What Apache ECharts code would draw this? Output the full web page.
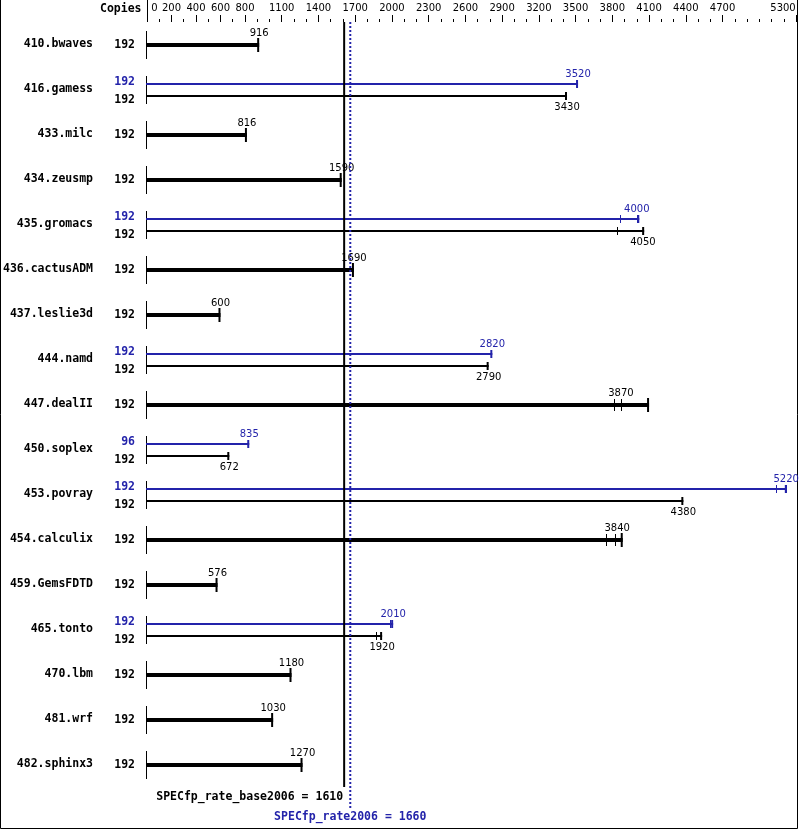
<!DOCTYPE html>
<html><head><meta charset="utf-8">
<script src="https://cdn.jsdelivr.net/npm/echarts@6/dist/echarts.min.js"></script>
<style>html,body{margin:0;padding:0;background:#fff}#c{width:799px;height:831px}</style>
</head><body><div id="c"></div>
<script>
const benchmarks = ['410.bwaves','416.gamess','433.milc','434.zeusmp','435.gromacs','436.cactusADM','437.leslie3d','444.namd','447.dealII','450.soplex','453.povray','454.calculix','459.GemsFDTD','465.tonto','470.lbm','481.wrf','482.sphinx3'];
const baseCopies = [192,192,192,192,192,192,192,192,192,192,192,192,192,192,192,192,192];
const baseMedian = [916,3430,816,1590,4050,1690,600,2790,3870,672,4380,3840,576,1920,1180,1030,1270];
const baseRuns = [[916],[3430],[816],[1590],[3840,4050,4060],[1690],[600],[2790],[3810,3870,4100],[672],[4380],[3750,3820,3885],[576],[1870,1920],[1180],[1030],[1270]];
const peakCopies = [null,192,null,null,192,null,null,192,null,96,192,null,null,192,null,null,null];
const peakMedian = [null,3520,null,null,4000,null,null,2820,null,835,5220,null,null,2010,null,null,null];
const peakRuns = [null,[3520],null,null,[3860,4000,4020],null,null,[2820],null,[835],[5135,5220,5225],null,null,[1985,2010],null,null,null];
const majorTicks = [0,200,400,600,800,1100,1400,1700,2000,2300,2600,2900,3200,3500,3800,4100,4400,4700,5300];
const specBase = 1610;
const specPeak = 1660;

const BLUE = '#2323aa';
const MONO = "'DejaVu Sans Mono', monospace";
const SANS = "'DejaVu Sans', sans-serif";

function txt(text, x, y, align, color, font) {
  return {type:'text', style:{text:String(text), x:x, y:y, align:align, verticalAlign:'middle', fill:color, font:font}};
}
function ln(x1,y1,x2,y2,color,w,dash) {
  const s = {stroke:color, lineWidth:w};
  if (dash) s.lineDash = dash;
  return {type:'line', shape:{x1:x1,y1:y1,x2:x2,y2:y2}, style:s};
}

function renderRow(params, api) {
  const i = api.value(1);
  const p0 = api.coord([0, i]);
  const x0 = p0[0], yc = Math.round(p0[1]);
  const X = v => api.coord([v, i])[0];
  const ch = [];
  ch.push(ln(x0-0.5, yc-14, x0-0.5, yc+14, '#000', 1));
  const valFont = '10px ' + SANS;
  const cpFont = 'bold 11.5px ' + MONO;
  if (peakMedian[i] == null) {
    const runs = baseRuns[i];
    const end = Math.max.apply(null, runs);
    const xe = X(end);
    ch.push(ln(x0-1, yc, xe, yc, '#000', 4));
    ch.push(ln(xe-1, yc-7, xe-1, yc+7, '#000', 2));
    runs.forEach(r => { if (r !== end) { const xr = Math.round(X(r))+0.5; ch.push(ln(xr, yc-6, xr, yc+6, '#000', 1)); } });
    ch.push(txt(baseMedian[i], X(baseMedian[i]), yc-12, 'center', '#000', valFont));
    ch.push(txt(baseCopies[i], x0-12, yc, 'right', '#000', cpFont));
  } else {
    const yp = yc-6, yb = yc+6;
    const pr = peakRuns[i], pe = Math.max.apply(null, pr), xpe = X(pe);
    ch.push(ln(x0-1, yp, xpe, yp, BLUE, 2));
    ch.push(ln(xpe-1, yp-4, xpe-1, yp+4, BLUE, 2));
    pr.forEach(r => { if (r !== pe) { const xr = Math.round(X(r))+0.5; ch.push(ln(xr, yp-4, xr, yp+4, BLUE, 1)); } });
    const br = baseRuns[i], be = Math.max.apply(null, br), xbe = X(be);
    ch.push(ln(x0-1, yb, xbe, yb, '#000', 2));
    ch.push(ln(xbe-1, yb-4, xbe-1, yb+4, '#000', 2));
    br.forEach(r => { if (r !== be) { const xr = Math.round(X(r))+0.5; ch.push(ln(xr, yb-4, xr, yb+4, '#000', 1)); } });
    ch.push(txt(peakMedian[i], X(peakMedian[i]), yc-16, 'center', BLUE, valFont));
    ch.push(txt(baseMedian[i], X(baseMedian[i]), yc+17, 'center', '#000', valFont));
    ch.push(txt(peakCopies[i], x0-12, yc-8, 'right', BLUE, cpFont));
    ch.push(txt(baseCopies[i], x0-12, yc+10, 'right', '#000', cpFont));
  }
  return {type:'group', children:ch};
}

function renderRef(params, api) {
  const n = benchmarks.length;
  const band = api.size([0, 1])[1];
  const top = api.coord([0, 0])[1] - band/2;
  const bottom = api.coord([0, n-1])[1] + band/2;
  const xb = api.coord([specBase, 0])[0];
  const xp = api.coord([specPeak, 0])[0];
  const font = 'bold 11.5px ' + MONO;
  return {type:'group', children:[
    ln(xb, top, xb, bottom, '#000', 2),
    ln(xp, top, xp, bottom + 22, BLUE, 2, [2,2]),
    txt('SPECfp_rate_base2006 = ' + specBase, xb-1, bottom + 10, 'right', '#000', font),
    txt('SPECfp_rate2006 = ' + specPeak, xp, bottom + 30, 'center', BLUE, font)
  ]};
}

const chart = echarts.init(document.getElementById('c'), null, {renderer:'canvas'});
const tickFont = {fontFamily: SANS, fontSize: 10, color:'#000'};
chart.setOption({
  animation: false,
  backgroundColor: '#fff',
  grid: {left: 147, right: 3, top: 22, height: 765},
  xAxis: [
    {type:'value', position:'top', min:0, max:5300, interval:100,
     axisLine:{show:false}, splitLine:{show:false},
     axisTick:{show:true, customValues: majorTicks, length:7, lineStyle:{color:'#000', width:1}},
     axisLabel:{show:true, customValues: majorTicks, margin:9, showMaxLabel:true, showMinLabel:true,
       fontFamily: SANS, fontSize: 10, color:'#000',
       formatter: v => v === 0 ? '{a|0}' : (v === 5300 ? '{b|5300}' : String(v)),
       rich: {a: Object.assign({padding:[0,0,0,15]}, tickFont), b: Object.assign({padding:[0,26,0,0]}, tickFont)}}},
    {type:'value', position:'top', min:0, max:5300, interval:100,
     axisLine:{show:false}, splitLine:{show:false}, axisLabel:{show:false},
     axisTick:{show:true, length:3, lineStyle:{color:'#000', width:1}}},
    {type:'value', position:'top', min:0, max:5300, interval:100,
     axisLine:{show:false}, splitLine:{show:false}, axisLabel:{show:false},
     axisTick:{show:true, customValues:[0], length:22, lineStyle:{color:'#000', width:1}}}
  ],
  yAxis: {type:'category', data: benchmarks, inverse: true,
    axisLine:{show:false}, axisTick:{show:false}, splitLine:{show:false},
    axisLabel:{margin:54, fontFamily: MONO, fontWeight:'bold', fontSize:11.5, color:'#000'}},
  graphic: [
    {type:'text', left: 100, top: 3, style:{text:'Copies', font:'bold 11.5px ' + MONO, fill:'#000'}},
    {type:'polyline', shape:{points:[[0.5,0],[0.5,828.5],[797.5,828.5],[797.5,0]]}, style:{stroke:'#000', lineWidth:1, fill:null}}
  ],
  series: [
    {type:'custom', xAxisIndex:0, renderItem: renderRow, data: benchmarks.map((b,i)=>[0,i]), encode:{x:0,y:1}, clip:false},
    {type:'custom', xAxisIndex:0, renderItem: renderRef, data: [[specBase, 0]], encode:{x:0,y:1}, clip:false, z:3}
  ]
});
</script></body></html>
